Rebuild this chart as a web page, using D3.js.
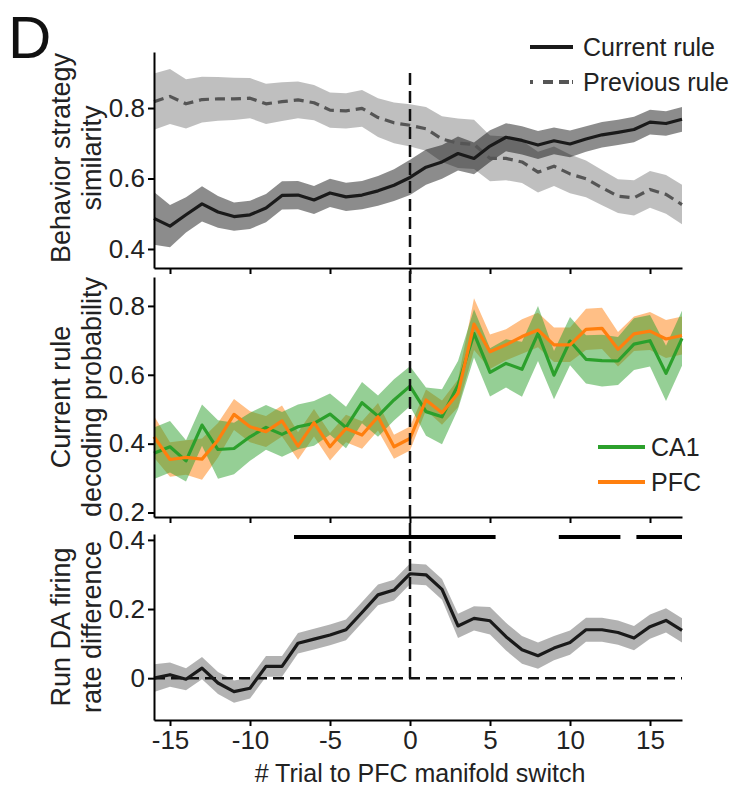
<!DOCTYPE html>
<html>
<head>
<meta charset="utf-8">
<script src="https://cdn.jsdelivr.net/npm/d3@7"></script>
<style>
  body { margin: 0; background: #fff; }
  svg { display: block; font-family: "Liberation Sans", Arial, sans-serif; }
</style>
</head>
<body>
<svg id="chart" width="741" height="790"></svg>
<script>
// trials relative to the PFC manifold switch
const trials = d3.range(-16, 18);

// panel 1: behavior strategy similarity
const currentRule = [0.487, 0.465, 0.497, 0.528, 0.505, 0.492, 0.497, 0.516, 0.552, 0.553, 0.539, 0.559, 0.548, 0.553, 0.565, 0.581, 0.603,
    0.632, 0.647, 0.671, 0.657, 0.692, 0.717, 0.708, 0.695, 0.707, 0.698, 0.712, 0.724, 0.731, 0.739, 0.760, 0.756, 0.768];
const currentRuleSem = [0.075, 0.06, 0.05, 0.05, 0.045, 0.04, 0.04, 0.04, 0.04, 0.04, 0.04, 0.04, 0.04, 0.04, 0.042, 0.045, 0.05,
    0.05, 0.048, 0.048, 0.045, 0.045, 0.04, 0.04, 0.04, 0.038, 0.038, 0.036, 0.036, 0.036, 0.036, 0.035, 0.035, 0.035];
const previousRule = [0.818, 0.833, 0.812, 0.824, 0.826, 0.826, 0.828, 0.812, 0.818, 0.823, 0.815, 0.794, 0.792, 0.799, 0.773, 0.758, 0.751,
    0.741, 0.712, 0.700, 0.697, 0.657, 0.657, 0.647, 0.618, 0.635, 0.613, 0.599, 0.574, 0.550, 0.545, 0.569, 0.555, 0.526];
const previousRuleSem = [0.08, 0.078, 0.07, 0.065, 0.062, 0.06, 0.057, 0.057, 0.055, 0.052, 0.05, 0.05, 0.05, 0.052, 0.055, 0.058, 0.06,
    0.062, 0.065, 0.07, 0.07, 0.065, 0.062, 0.06, 0.058, 0.056, 0.055, 0.052, 0.05, 0.048, 0.05, 0.052, 0.055, 0.056];

// panel 2: current rule decoding probability
const ca1 = [0.372, 0.391, 0.350, 0.454, 0.383, 0.386, 0.420, 0.447, 0.427, 0.449, 0.459, 0.486, 0.447, 0.519, 0.480, 0.527, 0.567,
    0.493, 0.478, 0.570, 0.720, 0.607, 0.633, 0.616, 0.720, 0.599, 0.698, 0.645, 0.641, 0.640, 0.689, 0.699, 0.604, 0.706];
const ca1Sem = [0.075, 0.075, 0.06, 0.06, 0.085, 0.075, 0.07, 0.065, 0.065, 0.065, 0.065, 0.06, 0.06, 0.06, 0.06, 0.06, 0.058,
    0.07, 0.08, 0.07, 0.07, 0.07, 0.07, 0.08, 0.08, 0.07, 0.07, 0.07, 0.075, 0.07, 0.075, 0.075, 0.08, 0.08];
const pfc = [0.420, 0.354, 0.360, 0.355, 0.410, 0.485, 0.449, 0.435, 0.466, 0.393, 0.461, 0.391, 0.444, 0.425, 0.478, 0.391, 0.415,
    0.527, 0.490, 0.546, 0.747, 0.667, 0.687, 0.711, 0.730, 0.687, 0.687, 0.732, 0.735, 0.674, 0.719, 0.727, 0.704, 0.714];
const pfcSem = [0.06, 0.05, 0.05, 0.06, 0.05, 0.045, 0.045, 0.045, 0.045, 0.04, 0.04, 0.04, 0.04, 0.04, 0.04, 0.035, 0.035,
    0.03, 0.035, 0.04, 0.075, 0.05, 0.045, 0.05, 0.05, 0.05, 0.05, 0.06, 0.06, 0.05, 0.05, 0.055, 0.055, 0.055];

// panel 3: run DA firing rate difference
const daDiff = [0.0, 0.010, -0.003, 0.029, -0.014, -0.039, -0.029, 0.034, 0.034, 0.101, 0.113, 0.125, 0.140, 0.190, 0.241, 0.255, 0.302,
    0.299, 0.257, 0.151, 0.173, 0.166, 0.120, 0.082, 0.065, 0.087, 0.103, 0.140, 0.140, 0.132, 0.116, 0.149, 0.167, 0.138];
const daDiffSem = [0.04, 0.035, 0.032, 0.032, 0.032, 0.032, 0.03, 0.03, 0.03, 0.03, 0.03, 0.03, 0.03, 0.03, 0.03, 0.03, 0.03,
    0.03, 0.03, 0.035, 0.035, 0.04, 0.04, 0.04, 0.038, 0.035, 0.035, 0.035, 0.035, 0.035, 0.035, 0.035, 0.035, 0.035];
// significant stretches (start, end trial)
const sigBars = [[-7.25, 5.35], [9.3, 13.15], [14.15, 17]];

const xTicks = [-15, -10, -5, 0, 5, 10, 15];
const y1Ticks = [0.4, 0.6, 0.8];
const y2Ticks = [0.2, 0.4, 0.6, 0.8];
const y3Ticks = [0, 0.2, 0.4];

const svg = d3.select("#chart");

const x = d3.scaleLinear().domain([-16, 17]).range([154, 682]);
const y1 = d3.scaleLinear().domain([0.346, 0.959]).range([268, 52]);
const y2 = d3.scaleLinear().domain([0.187, 0.884]).range([517, 277]);
const y3 = d3.scaleLinear().domain([-0.121, 0.417]).range([720, 534]);

const tickFmt = d => d === 0 ? "0" : d.toFixed(1);

function drawBand(y, vals, sem, fill, opacity) {
    const area = d3.area()
        .x((d, i) => x(trials[i]))
        .y0((d, i) => y(vals[i] - sem[i]))
        .y1((d, i) => y(vals[i] + sem[i]));
    svg.append("path")
        .datum(vals)
        .attr("d", area)
        .attr("fill", fill)
        .attr("fill-opacity", opacity);
}

function drawLine(y, vals, color, dash) {
    const line = d3.line()
        .x((d, i) => x(trials[i]))
        .y(d => y(d));
    const p = svg.append("path")
        .datum(vals)
        .attr("d", line)
        .attr("fill", "none")
        .attr("stroke", color)
        .attr("stroke-width", 3.2)
        .attr("stroke-linejoin", "round");
    if (dash) p.attr("stroke-dasharray", dash);
}

function drawAxes(y, yTicks, showXLabels) {
    const yAxis = svg.append("g")
        .attr("transform", `translate(${x.range()[0]},0)`)
        .call(d3.axisLeft(y).tickValues(yTicks).tickFormat(tickFmt).tickSize(6).tickSizeOuter(0).tickPadding(3));
    const xAxis = svg.append("g")
        .attr("transform", `translate(0,${y.range()[0]})`)
        .call(d3.axisBottom(x).tickValues(xTicks).tickSize(6).tickSizeOuter(0).tickPadding(5)
            .tickFormat(showXLabels ? (d => String(d)) : ""));
    [yAxis, xAxis].forEach(g => {
        g.selectAll(".domain").attr("stroke", "#000").attr("stroke-width", 2);
        g.selectAll(".tick line").attr("stroke", "#000").attr("stroke-width", 2);
        g.selectAll(".tick text").attr("fill", "#222").style("font-size", "26px")
            .style("font-family", "'Liberation Sans', Arial, sans-serif");
    });
}

function yTitle(lines, cy) {
    const t = svg.append("text")
        .attr("transform", `translate(0,${cy}) rotate(-90)`)
        .attr("text-anchor", "middle")
        .style("font-size", "27px")
        .attr("fill", "#222");
    lines.forEach((s, i) => {
        t.append("tspan").attr("x", 0).attr("y", 70 + i * 31).text(s);
    });
}

// --- panel 1
drawBand(y1, previousRule, previousRuleSem, "#000", 0.25);
drawBand(y1, currentRule, currentRuleSem, "#000", 0.45);
drawLine(y1, previousRule, "#555", "10,6");
drawLine(y1, currentRule, "#1a1a1a");
drawAxes(y1, y1Ticks, false);
yTitle(["Behavior strategy", "similarity"], 158);

// --- panel 2
drawBand(y2, pfc, pfcSem, "#ff7f0e", 0.5);
drawBand(y2, ca1, ca1Sem, "#2ca02c", 0.5);
drawLine(y2, ca1, "#2ca02c");
drawLine(y2, pfc, "#ff7f0e");
drawAxes(y2, y2Ticks, false);
yTitle(["Current rule", "decoding probability"], 397);

// --- panel 3
drawBand(y3, daDiff, daDiffSem, "#000", 0.3);
svg.append("line")
    .attr("x1", x(-16)).attr("x2", x(17))
    .attr("y1", y3(0)).attr("y2", y3(0))
    .attr("stroke", "#111").attr("stroke-width", 2.5).attr("stroke-dasharray", "11,6");
drawLine(y3, daDiff, "#1a1a1a");
svg.selectAll(".sig")
    .data(sigBars)
    .enter().append("line")
    .attr("x1", d => x(d[0])).attr("x2", d => x(d[1]))
    .attr("y1", 537).attr("y2", 537)
    .attr("stroke", "#000").attr("stroke-width", 4);
drawAxes(y3, y3Ticks, true);
yTitle(["Run DA firing", "rate difference"], 627);

// switch marker across all panels
svg.append("line")
    .attr("x1", x(0)).attr("x2", x(0))
    .attr("y1", 73).attr("y2", y3(0))
    .attr("stroke", "#111").attr("stroke-width", 2.5).attr("stroke-dasharray", "12,6");

// x title
svg.append("text")
    .attr("x", x(0) + 10).attr("y", 782)
    .attr("text-anchor", "middle")
    .style("font-size", "25px")
    .attr("fill", "#222")
    .text("# Trial to PFC manifold switch");

// panel letter
svg.append("text")
    .attr("x", 8).attr("y", 58)
    .style("font-size", "60px")
    .attr("fill", "#111")
    .text("D");

// legend, panel 1
const legend1 = [
    { label: "Current rule", color: "#1a1a1a", dash: null, y: 47 },
    { label: "Previous rule", color: "#555", dash: "3,10,10,6,10", y: 82 }
];
legend1.forEach(d => {
    const ln = svg.append("line")
        .attr("x1", 530).attr("x2", 573).attr("y1", d.y).attr("y2", d.y)
        .attr("stroke", d.color).attr("stroke-width", 4);
    if (d.dash) ln.attr("stroke-dasharray", d.dash);
    svg.append("text")
        .attr("x", 583).attr("y", d.y + 9)
        .style("font-size", "25px")
        .attr("fill", "#222")
        .text(d.label);
});

// legend, panel 2
const legend2 = [
    { label: "CA1", color: "#2ca02c", y: 447 },
    { label: "PFC", color: "#ff7f0e", y: 482 }
];
legend2.forEach(d => {
    svg.append("line")
        .attr("x1", 598).attr("x2", 645).attr("y1", d.y).attr("y2", d.y)
        .attr("stroke", d.color).attr("stroke-width", 4);
    svg.append("text")
        .attr("x", 651).attr("y", d.y + 9)
        .style("font-size", "25px")
        .attr("fill", "#222")
        .text(d.label);
});
</script>
</body>
</html>
